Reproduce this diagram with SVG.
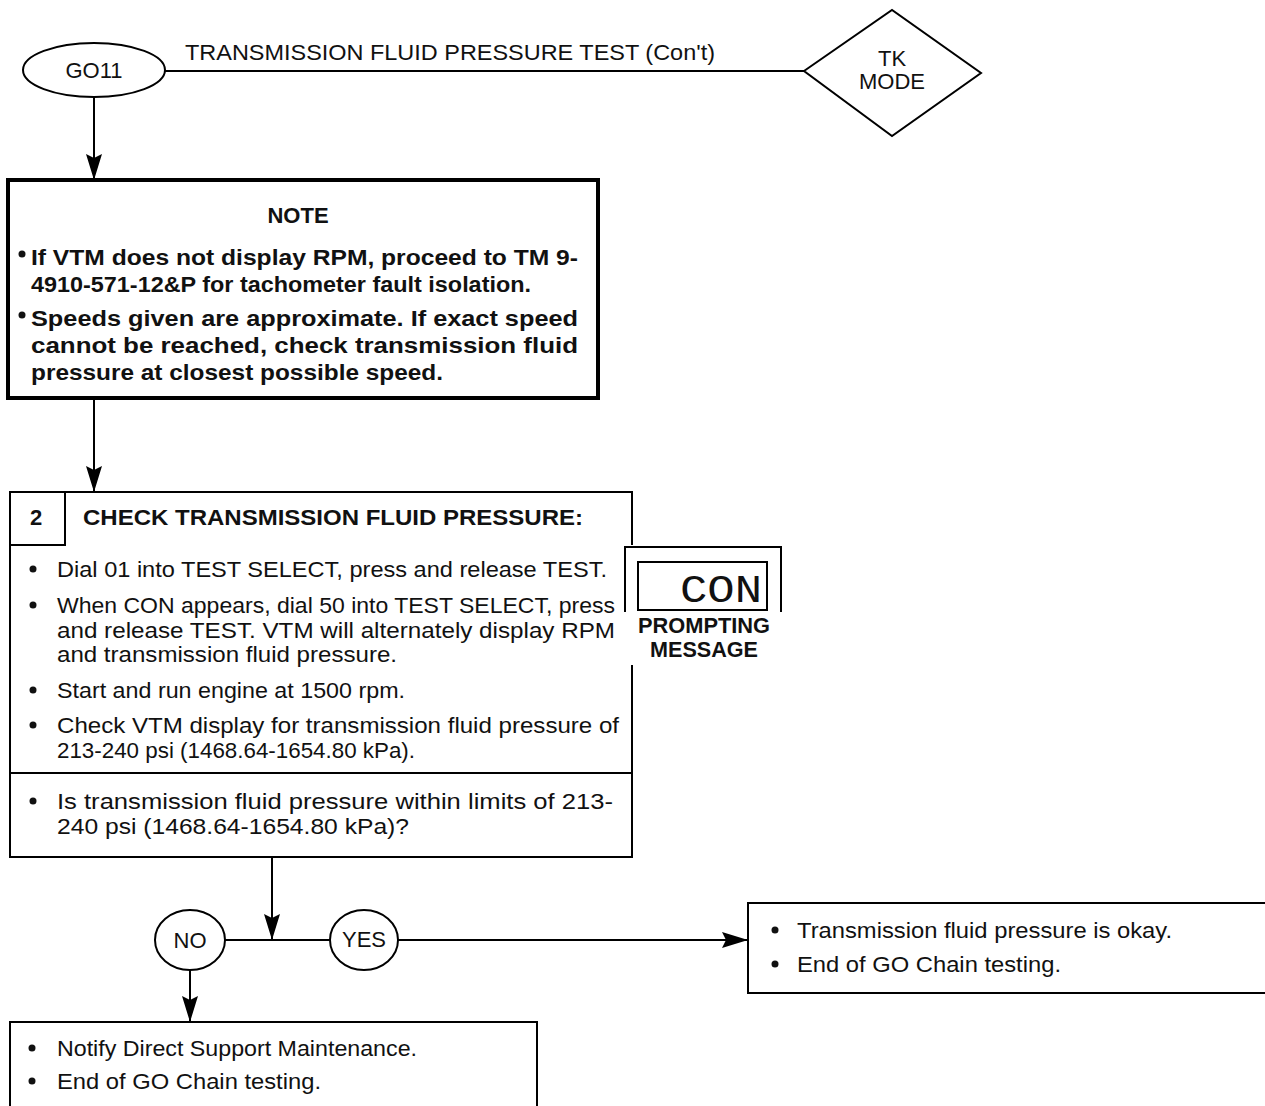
<svg xmlns="http://www.w3.org/2000/svg" width="1265" height="1106" viewBox="0 0 1265 1106">
<style>
  .ln { fill: none; stroke: #000; stroke-width: 2; }
  .thick { fill: none; stroke: #000; stroke-width: 4; }
  .t { font-family: "Liberation Sans", Arial, sans-serif; font-size: 22px; fill: #111; }
  .b { font-family: "Liberation Sans", Arial, sans-serif; font-size: 22px; font-weight: bold; fill: #111; }
  .c { text-anchor: middle; }
</style>
<defs>
  <marker id="ah" markerUnits="userSpaceOnUse" markerWidth="26" markerHeight="16" viewBox="0 0 26 16" refX="26" refY="8" orient="auto">
    <path d="M0,0 L4,8 L0,16 L26,8 Z" fill="#000"/>
  </marker>
</defs>
<rect width="1265" height="1106" fill="#fff"/>

<g id="connectors">
  <line class="ln" x1="165" y1="71" x2="804" y2="71"/>
  <line class="ln" x1="94" y1="97" x2="94" y2="180" marker-end="url(#ah)"/>
  <line class="ln" x1="94" y1="398" x2="94" y2="492" marker-end="url(#ah)"/>
  <line class="ln" x1="272" y1="857" x2="272" y2="940" marker-end="url(#ah)"/>
  <line class="ln" x1="225" y1="940" x2="330" y2="940"/>
  <line class="ln" x1="398" y1="940" x2="748" y2="940" marker-end="url(#ah)"/>
  <line class="ln" x1="190" y1="970" x2="190" y2="1022" marker-end="url(#ah)"/>
</g>

<g id="title">
  <text class="t" x="185" y="60" font-size="20" textLength="530" lengthAdjust="spacingAndGlyphs">TRANSMISSION FLUID PRESSURE TEST (Con't)</text>
</g>

<g id="go11">
  <ellipse class="ln" cx="94" cy="70" rx="71" ry="27"/>
  <text class="t c" x="94" y="78" font-size="21">GO11</text>
</g>

<g id="tkmode">
  <polygon class="ln" points="804,71 892,10 981,73 892,136"/>
  <text class="t c" x="892" y="66" font-size="20">TK</text>
  <text class="t c" x="892" y="89" font-size="20">MODE</text>
</g>

<g id="note">
  <rect class="thick" x="8" y="180" width="590" height="218"/>
  <text class="b c" x="298" y="223" font-size="23">NOTE</text>
  <circle cx="22" cy="254" r="3.5" fill="#111"/>
  <text class="b" x="31" y="265" textLength="547" lengthAdjust="spacingAndGlyphs">If VTM does not display RPM, proceed to TM 9-</text>
  <text class="b" x="31" y="292" textLength="500" lengthAdjust="spacingAndGlyphs">4910-571-12&amp;P for tachometer fault isolation.</text>
  <circle cx="22" cy="315" r="3.5" fill="#111"/>
  <text class="b" x="31" y="326" textLength="547" lengthAdjust="spacingAndGlyphs">Speeds given are approximate. If exact speed</text>
  <text class="b" x="31" y="353" textLength="547" lengthAdjust="spacingAndGlyphs">cannot be reached, check transmission fluid</text>
  <text class="b" x="31" y="380" textLength="412" lengthAdjust="spacingAndGlyphs">pressure at closest possible speed.</text>
</g>

<g id="step2">
  <path class="ln" d="M632,545 V492 H10 V857 H632 V665"/>
  <path class="ln" d="M65,492 V545 H10"/>
  <line class="ln" x1="10" y1="773" x2="632" y2="773"/>
  <text class="b" x="30" y="525">2</text>
  <text class="b" x="83" y="525" textLength="500" lengthAdjust="spacingAndGlyphs">CHECK TRANSMISSION FLUID PRESSURE:</text>
  <circle cx="33" cy="569" r="3.5" fill="#111"/>
  <text class="t" x="57" y="577" textLength="550" lengthAdjust="spacingAndGlyphs">Dial 01 into TEST SELECT, press and release TEST.</text>
  <circle cx="33" cy="605" r="3.5" fill="#111"/>
  <text class="t" x="57" y="613" textLength="558" lengthAdjust="spacingAndGlyphs">When CON appears, dial 50 into TEST SELECT, press</text>
  <text class="t" x="57" y="638" textLength="558" lengthAdjust="spacingAndGlyphs">and release TEST. VTM will alternately display RPM</text>
  <text class="t" x="57" y="662" textLength="340" lengthAdjust="spacingAndGlyphs">and transmission fluid pressure.</text>
  <circle cx="33" cy="690" r="3.5" fill="#111"/>
  <text class="t" x="57" y="698" textLength="348" lengthAdjust="spacingAndGlyphs">Start and run engine at 1500 rpm.</text>
  <circle cx="33" cy="725" r="3.5" fill="#111"/>
  <text class="t" x="57" y="733" textLength="562" lengthAdjust="spacingAndGlyphs">Check VTM display for transmission fluid pressure of</text>
  <text class="t" x="57" y="758" textLength="358" lengthAdjust="spacingAndGlyphs">213-240 psi (1468.64-1654.80 kPa).</text>
  <circle cx="33" cy="801" r="3.5" fill="#111"/>
  <text class="t" x="57" y="809" textLength="556" lengthAdjust="spacingAndGlyphs">Is transmission fluid pressure within limits of 213-</text>
  <text class="t" x="57" y="834" textLength="352" lengthAdjust="spacingAndGlyphs">240 psi (1468.64-1654.80 kPa)?</text>
</g>

<g id="prompt">
  <path class="ln" d="M625,612 V547 H781 V612"/>
  <rect class="ln" x="638" y="562" width="129" height="48"/>
  <text x="762" y="602" text-anchor="end" font-family="Liberation Mono, monospace" font-size="39" fill="#111" textLength="82" lengthAdjust="spacingAndGlyphs">CON</text>
  <text class="b c" x="704" y="633" font-size="16" textLength="132" lengthAdjust="spacingAndGlyphs">PROMPTING</text>
  <text class="b c" x="704" y="657" font-size="16" textLength="108" lengthAdjust="spacingAndGlyphs">MESSAGE</text>
</g>

<g id="no">
  <ellipse class="ln" cx="190" cy="940" rx="35" ry="30"/>
  <text class="t c" x="190" y="948">NO</text>
</g>

<g id="yes">
  <ellipse class="ln" cx="364" cy="940" rx="34" ry="30"/>
  <text class="t c" x="364" y="947">YES</text>
</g>

<g id="okbox">
  <path class="ln" d="M1265,903 H748 V993 H1265"/>
  <circle cx="775" cy="930" r="3.5" fill="#111"/>
  <text class="t" x="797" y="938" textLength="375" lengthAdjust="spacingAndGlyphs">Transmission fluid pressure is okay.</text>
  <circle cx="775" cy="964" r="3.5" fill="#111"/>
  <text class="t" x="797" y="972" textLength="264" lengthAdjust="spacingAndGlyphs">End of GO Chain testing.</text>
</g>

<g id="notifybox">
  <path class="ln" d="M10,1106 V1022 H537 V1106"/>
  <circle cx="32" cy="1048" r="3.5" fill="#111"/>
  <text class="t" x="57" y="1056" textLength="360" lengthAdjust="spacingAndGlyphs">Notify Direct Support Maintenance.</text>
  <circle cx="32" cy="1081" r="3.5" fill="#111"/>
  <text class="t" x="57" y="1089" textLength="264" lengthAdjust="spacingAndGlyphs">End of GO Chain testing.</text>
</g>
</svg>
